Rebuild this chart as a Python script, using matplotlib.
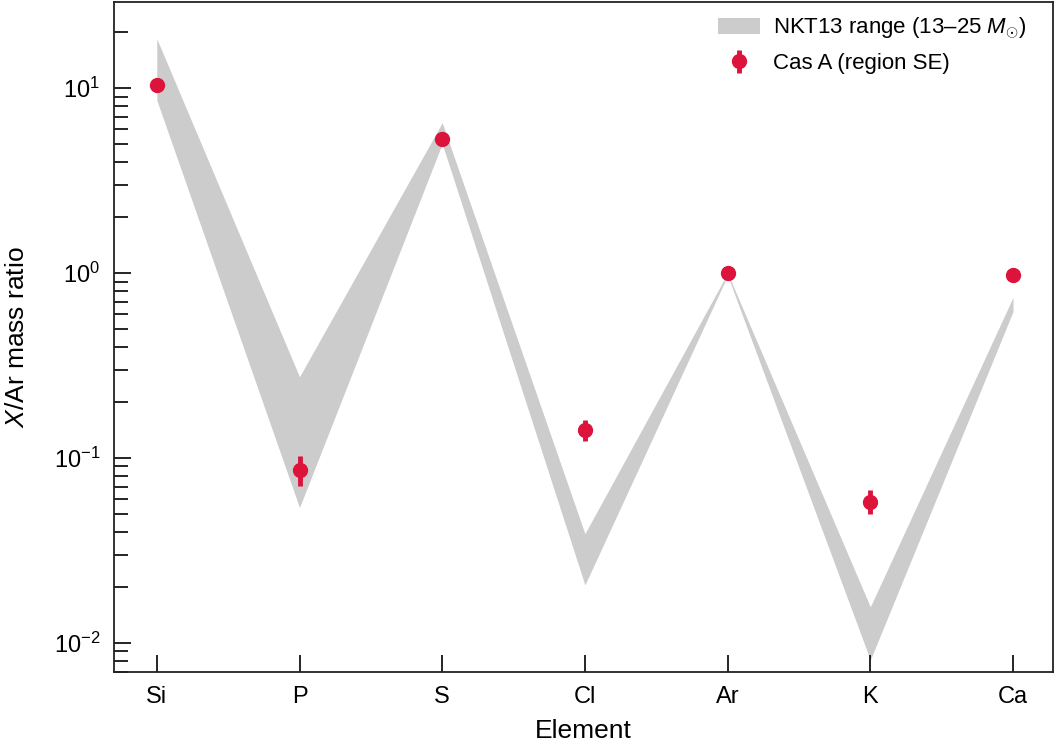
import numpy as np
import matplotlib
matplotlib.use("Agg")
import matplotlib.pyplot as plt
from matplotlib.ticker import LogLocator

plt.rcParams['font.family'] = ['Liberation Sans', 'DejaVu Sans']
plt.rcParams['mathtext.fontset'] = 'custom'
plt.rcParams['mathtext.rm'] = 'Liberation Sans'
plt.rcParams['mathtext.it'] = 'Liberation Sans:italic'

# ---------- data ----------
elements = ["Si", "P", "S", "Cl", "Ar", "K", "Ca"]
band_hi = [18.5, 0.275, 6.5, 0.039, 1.0, 0.0157, 0.74]
band_lo = [8.6, 0.054, 5.0, 0.0206, 0.97, 0.0081, 0.62]
casa = [10.4, 0.086, 5.3, 0.142, 1.0, 0.058, 0.98]
casa_lo = [10.2, 0.071, 5.2, 0.123, 0.99, 0.050, 0.97]
casa_hi = [10.6, 0.103, 5.4, 0.160, 1.01, 0.067, 0.99]

red = "#dc143c"
grey = "#cccccc"

x = np.arange(len(elements))
casa = np.array(casa)
yerr = [casa - np.array(casa_lo), np.array(casa_hi) - casa]

fig = plt.figure(figsize=(10.57, 7.41), dpi=100)
ax = fig.add_axes([114 / 1057, 69 / 741, (1053 - 114) / 1057, (672 - 2) / 741])

ax.fill_between(x, band_lo, band_hi, color=grey, lw=0,
                label=r"NKT13 range (13–25 $M_{\odot}$)")
ax.errorbar(x, casa, yerr=yerr, fmt="o", color=red, ms=10, elinewidth=3.5,
            capsize=0, label="Cas A (region SE)", zorder=3)

ax.set_yscale("log")
ax.set_ylim(0.00697, 29.2)
ax.set_xlim(-0.30, 6.28)
ax.set_xticks(x)
ax.set_xticklabels(elements)
ax.yaxis.set_major_locator(LogLocator(base=10, numticks=10))
ax.yaxis.set_minor_locator(LogLocator(base=10, subs=np.arange(2, 10), numticks=10))

ax.tick_params(axis="both", which="major", direction="in", length=12, width=1.2,
               labelsize=17, pad=10, top=False, right=False)
ax.tick_params(axis="y", which="minor", direction="in", length=10, width=1.2, right=False)
for s in ax.spines.values():
    s.set_linewidth(1.3)
    s.set_color("#222222")

ax.set_xlabel("Element", fontsize=19, labelpad=8)
ax.set_ylabel(r"$X$/Ar mass ratio", fontsize=19, labelpad=18)

leg = ax.legend(loc="upper right", bbox_to_anchor=(0.986, 1.0), frameon=False,
                fontsize=16, handlelength=1.9, handletextpad=0.6,
                borderaxespad=0.2, labelspacing=0.55)

fig.savefig("out.png", dpi=100)
